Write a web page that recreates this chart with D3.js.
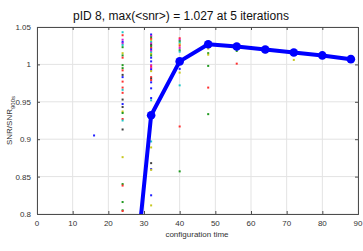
<!DOCTYPE html>
<html>
<head>
<meta charset="utf-8">
<script src="https://cdn.jsdelivr.net/npm/d3@7"></script>
<style>
  body { margin: 0; background: #fff; }
  text { font-family: "Liberation Sans", Arial, sans-serif; }
</style>
</head>
<body>
<svg id="chart" width="363" height="251"></svg>
<script>
// mean snr curve
var lineX = [24, 32, 40, 48, 56, 64, 72, 80, 88]
var lineY = [0.555, 0.932, 1.004, 1.027, 1.024, 1.020, 1.016, 1.012, 1.007]

// individual runs, one list per configuration time
var dotTimes = [16, 24, 32, 40, 48, 56, 64, 72, 80, 88]
var dotVals = [
  [0.905],
  [1.043,1.039,1.033,1.030,1.028,1.026,1.023,1.015,1.012,1.009,0.999,0.995,0.992,0.986,0.983,0.977,0.969,0.966,0.962,0.953,0.947,0.943,0.937,0.935,0.927,0.925,
   0.913,0.876,0.840,0.838,0.816,0.805,0.804],
  [1.040,1.038,1.036,1.034,1.032,1.030,1.028,1.026,1.024,1.022,1.020,1.018,1.016,1.014,1.012,1.009,1.004,0.999,0.997,0.995,0.993,0.991,0.983,0.981,0.979,0.976,0.968,0.955,0.952,0.932,
   0.897,0.889,0.868,0.860,0.859,0.825,0.8115],
  [1.035,1.033,1.031,1.029,1.027,1.025,1.022,1.019,1.017,0.994,0.989,0.972,0.917,0.857],
  [1.030,1.028,1.026,1.023,1.021,1.015,1.013,0.998,0.969,0.9335],
  [1.024,1.021,1.018,1.001],
  [1.019,1.018,1.016],
  [1.016,1.013,1.006],
  [1.012,1.010],
  [1.006]
]
var dotCols = [
  'b',
  'crmbmcgygrggrkbrrcrkbkygrc' + 'kygrggr',
  'bmgrycmkgrbmcygbbmrmbyrkrbbbcb' + 'cykbyby',
  'rmgcyrmgcbycrg',
  'rmbmygygrg',
  'brgr',
  'rgy',
  'ryy',
  'ry',
  'm'
]

var colors = {b:'#2020ff', r:'#ff3030', g:'#209a20', k:'#404040', m:'#d020d0', c:'#20c8c8', y:'#c8c820'}

var xTicks = d3.range(0, 91, 10)
var yTicks = [0.8, 0.85, 0.9, 0.95, 1, 1.05]

var margin = {left: 37, right: 5, top: 27, bottom: 37}
var width = 363, height = 251

var svg = d3.select('#chart')

var x = d3.scaleLinear().domain([0, 90]).range([margin.left, width - margin.right])
var y = d3.scaleLinear().domain([0.8, 1.05]).range([height - margin.bottom, margin.top])

// grid
svg.append('g').selectAll('line').data(xTicks).enter().append('line')
  .attr('x1', d => x(d)).attr('x2', d => x(d))
  .attr('y1', y(0.8)).attr('y2', y(1.05))
  .attr('stroke', '#e3e3e3').attr('stroke-width', 1)
svg.append('g').selectAll('line').data(yTicks).enter().append('line')
  .attr('x1', x(0)).attr('x2', x(90))
  .attr('y1', d => y(d)).attr('y2', d => y(d))
  .attr('stroke', '#e3e3e3').attr('stroke-width', 1)

svg.append('defs').append('clipPath').attr('id', 'clip')
  .append('rect').attr('x', x(0)).attr('y', y(1.05))
  .attr('width', x(90) - x(0)).attr('height', y(0.8) - y(1.05))

var plot = svg.append('g').attr('clip-path', 'url(#clip)')

// dots
var dots = []
dotTimes.forEach((t, i) => {
  dotVals[i].forEach((v, j) => {
    dots.push({t: t, v: v, c: dotCols[i][j]})
  })
})
plot.selectAll('rect.dot').data(dots).enter().append('rect')
  .attr('class', 'dot')
  .attr('x', d => x(d.t) - 1)
  .attr('y', d => y(d.v) - 1)
  .attr('width', 2).attr('height', 2)
  .attr('fill', d => colors[d.c] || '#888')

var pts = lineX.map((d, i) => [d, lineY[i]])
plot.append('path').datum(pts)
  .attr('d', d3.line().x(d => x(d[0])).y(d => y(d[1])))
  .attr('fill', 'none').attr('stroke', '#0000ff').attr('stroke-width', 4)
  .attr('stroke-linejoin', 'round')
plot.selectAll('circle').data(pts).enter().append('circle')
  .attr('cx', d => x(d[0])).attr('cy', d => y(d[1]))
  .attr('r', 4.3).attr('fill', '#0000ff')

// axes box
var axisColor = '#4d4d4d'
svg.append('g').attr('transform', 'translate(0,' + y(1.05) + ')')
  .call(d3.axisTop(x).tickValues(xTicks).tickSize(-3).tickFormat(''))
svg.append('g').attr('transform', 'translate(' + x(90) + ',0)')
  .call(d3.axisRight(y).tickValues(yTicks).tickSize(-3).tickFormat(''))
svg.append('g').attr('transform', 'translate(' + x(0) + ',0)')
  .call(d3.axisLeft(y).tickValues(yTicks).tickSize(-3).tickPadding(6).tickFormat(d => String(d)))
svg.append('g').attr('class', 'xaxis').attr('transform', 'translate(0,' + y(0.8) + ')')
  .call(d3.axisBottom(x).tickValues(xTicks).tickSize(-3).tickFormat(''))

svg.selectAll('.domain').attr('stroke', axisColor)
svg.selectAll('.tick line').attr('stroke', axisColor)
svg.selectAll('.tick text').attr('fill', '#333').style('font-size', '8px')
  .style('font-family', '"Liberation Sans", Arial, sans-serif')

// x tick labels
svg.append('g').selectAll('text').data(xTicks).enter().append('text')
  .attr('x', d => x(d)).attr('y', y(0.8) + 12)
  .attr('text-anchor', 'middle').style('font-size', '8px').attr('fill', '#333')
  .text(d => d)

svg.append('text').attr('x', 197).attr('y', 237).attr('text-anchor', 'middle')
  .style('font-size', '8px').attr('fill', '#333')
  .text('configuration time')

svg.append('text').attr('x', 181).attr('y', 20).attr('text-anchor', 'middle')
  .style('font-size', '12px').attr('fill', '#111')
  .text('pID 8, max(<snr>) = 1.027 at 5 iterations')

var yl = svg.append('text').attr('transform', 'translate(12,' + y(0.925) + ') rotate(-90)')
  .attr('text-anchor', 'middle').style('font-size', '8px').attr('fill', '#333')
yl.append('tspan').text('SNR/SNR')
yl.append('tspan').attr('dy', 3).style('font-size', '6px').text('900s')
</script>
</body>
</html>
